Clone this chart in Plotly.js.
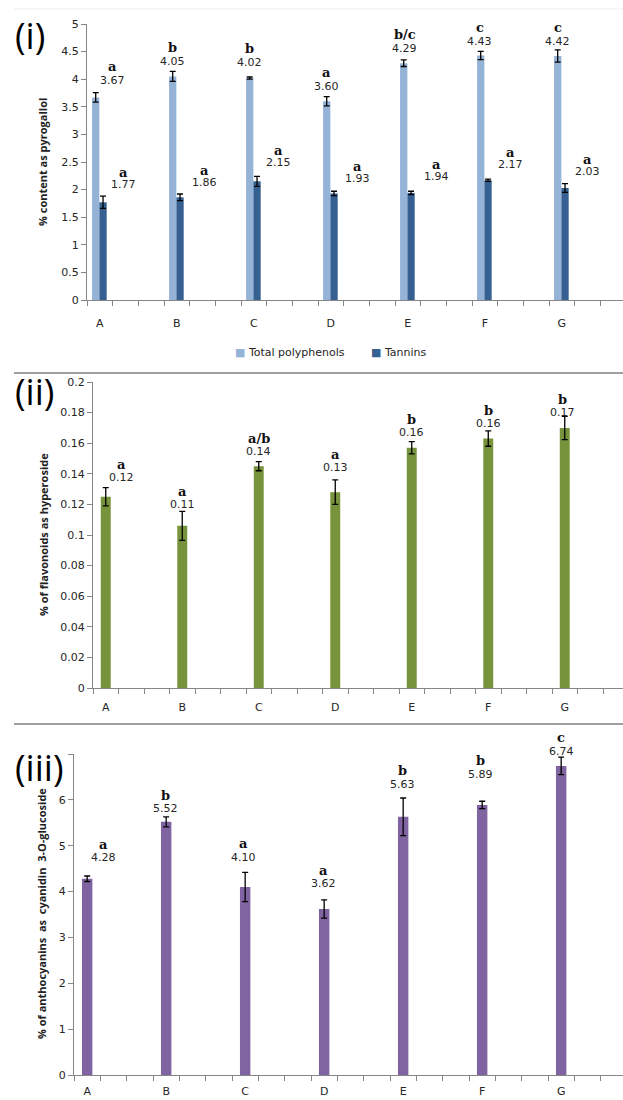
<!DOCTYPE html>
<html><head><meta charset="utf-8">
<script src="https://cdn.plot.ly/plotly-3.0.1.min.js"></script>
<style>html,body{margin:0;padding:0;background:#fff}#chart{width:623px;height:1100px}</style>
</head><body><div id="chart"></div>
<script>
// ---------- DATA ----------
const categories = ['A','B','C','D','E','F','G'];
// (i)
const polyphenols = [3.67,4.05,4.02,3.60,4.29,4.43,4.42];
const polyphenolsErr = [0.085,0.09,0.02,0.085,0.06,0.075,0.11];
const polyphenolsLetters = ['a','b','b','a','b/c','c','c'];
const tannins = [1.77,1.86,2.15,1.93,1.94,2.17,2.03];
const tanninsErr = [0.11,0.06,0.09,0.04,0.03,0.02,0.08];
const tanninsLetters = ['a','a','a','a','a','a','a'];
// (ii)
const flavonoids = [0.125,0.106,0.145,0.128,0.157,0.163,0.170];
const flavonoidsErr = [0.006,0.0095,0.003,0.008,0.004,0.005,0.0076];
const flavonoidsLabels = ['0.12','0.11','0.14','0.13','0.16','0.16','0.17'];
const flavonoidsLetters = ['a','a','a/b','a','b','b','b'];
// (iii)
const anthocyanins = [4.28,5.52,4.10,3.62,5.63,5.89,6.74];
const anthocyaninsErr = [0.06,0.11,0.32,0.20,0.41,0.08,0.19];
const anthocyaninsLetters = ['a','b','a','a','b','b','c'];

// ---------- STYLE (label pixel offsets) ----------
const W = 623, H = 1100;
const P1L_dx = [13,-4,-4,-4,-3,-5,-4], P1L_dy = [12,10,14,10,11,10,8];
const P1D_dx = [24,28,25,27,29,26,26], P1D_dy = [12,12,14,13,15,15,12];
const P2_dx = [16,0,0,0,0,0,-2], P2_dy = [10,7,10,12,9,7,4];
const P3_dx = [16,-1,-2,-1,-1,-2,0], P3_dy = [18,8,15,16,14,27,6];

const xs = categories.map((c,i)=>i);
const axisGray = '#868686';
const tickFont = {family:'DejaVu Sans', size:11, color:'#262626'};
const errStyle = (arr)=>({type:'data', array:arr, visible:true, color:'#000', thickness:1.3, width:3});

const traces = [
  {type:'bar', x:xs, y:polyphenols, name:'Total polyphenols', xaxis:'x', yaxis:'y',
   width:0.095, offset:-0.101, marker:{color:'#95B3D7', line:{width:0}},
   error_y:errStyle(polyphenolsErr), showlegend:false, hoverinfo:'skip'},
  {type:'bar', x:xs, y:tannins, name:'Tannins', xaxis:'x', yaxis:'y',
   width:0.095, offset:-0.006, marker:{color:'#366092', line:{width:0}},
   error_y:errStyle(tanninsErr), showlegend:false, hoverinfo:'skip'},
  {type:'bar', x:xs, y:flavonoids, xaxis:'x2', yaxis:'y2',
   width:0.13, offset:-0.065, marker:{color:'#77933C', line:{width:0}},
   error_y:errStyle(flavonoidsErr), showlegend:false, hoverinfo:'skip'},
  {type:'bar', x:xs, y:anthocyanins, xaxis:'x3', yaxis:'y3',
   width:0.132, offset:-0.066, marker:{color:'#8064A2', line:{width:0}},
   error_y:errStyle(anthocyaninsErr), showlegend:false, hoverinfo:'skip'}
];

function xAxis(left, unitPx, anchor, labelPad){
  return {domain:[left/W,1], range:[-1/6, -1/6 + (W-left)/unitPx], anchor:anchor,
    tickvals:xs, ticktext:categories, ticks:'outside', ticklen:labelPad, tickcolor:'rgba(0,0,0,0)',
    showline:true, linecolor:axisGray, linewidth:1, showgrid:false, zeroline:false,
    tickfont:tickFont, fixedrange:true,
    minor:{tick0:-1/6, dtick:1/3, ticks:'outside', ticklen:5, tickcolor:axisGray, tickwidth:1, showgrid:false}};
}
function yAxis(topPx, botPx, anchor, extra){
  return Object.assign({domain:[1-botPx/H, 1-topPx/H], anchor:anchor,
    ticks:'outside', ticklen:5, tickcolor:axisGray, showline:true, linecolor:axisGray, linewidth:1,
    showgrid:false, zeroline:false, tickfont:tickFont, fixedrange:true}, extra);
}

const annotations = [];
function addLabels(xr, yr, vals, errs, texts, letters, dx, dy, gap){
  vals.forEach((v,i)=>{
    annotations.push({xref:xr, yref:yr, x:xs[i], y:v+errs[i], xshift:dx[i], yshift:dy[i],
      text:texts[i], showarrow:false, xanchor:'center', yanchor:'middle',
      font:{family:'DejaVu Sans', size:11, color:'#262626'}});
    annotations.push({xref:xr, yref:yr, x:xs[i], y:v+errs[i], xshift:dx[i], yshift:dy[i]+gap,
      text:'<b>'+letters[i]+'</b>', showarrow:false, xanchor:'center', yanchor:'middle',
      font:{family:'DejaVu Serif', size:13, color:'#111'}});
  });
}
addLabels('x','y', polyphenols, polyphenolsErr, polyphenols.map(v=>v.toFixed(2)), polyphenolsLetters, P1L_dx, P1L_dy, 14);
addLabels('x','y', tannins, tanninsErr, tannins.map(v=>v.toFixed(2)), tanninsLetters, P1D_dx, P1D_dy, 12);
addLabels('x2','y2', flavonoids, flavonoidsErr, flavonoidsLabels, flavonoidsLetters, P2_dx, P2_dy, 13);
addLabels('x3','y3', anthocyanins, anthocyaninsErr, anthocyanins.map(v=>v.toFixed(2)), anthocyaninsLetters, P3_dx, P3_dy, 13.5);

// panel tags
[['(i)',36],['(ii)',391],['(iii)',767]].forEach(([t,y])=>{
  annotations.push({xref:'paper', yref:'paper', x:13/W, y:1-y/H, text:t, showarrow:false,
    xanchor:'left', yanchor:'middle', font:{family:'Open Sans', size:36, color:'#000'}});
});
// y titles
[['% content as pyrogallol',43,162],['% of flavonoids as hyperoside',43,535],
 ['% of anthocyanins  as  cyanidin  3-O-glucoside',41,914]].forEach(([t,x,y])=>{
  annotations.push({xref:'paper', yref:'paper', x:x/W, y:1-y/H, text:'<b>'+t+'</b>', textangle:-90,
    showarrow:false, xanchor:'center', yanchor:'middle', font:{family:'Open Sans', size:11, color:'#222'}});
});
// legend
annotations.push({xref:'paper', yref:'paper', x:233/W, y:1-352/H, xanchor:'left', yanchor:'middle', showarrow:false,
  text:'<span style="color:#95B3D7">■</span> ' + traces[0].name, font:{family:'DejaVu Sans', size:11, color:'#262626'}});
annotations.push({xref:'paper', yref:'paper', x:369/W, y:1-352/H, xanchor:'left', yanchor:'middle', showarrow:false,
  text:'<span style="color:#366092">■</span> ' + traces[1].name, font:{family:'DejaVu Sans', size:11, color:'#262626'}});

const shapes = [
  {type:'line', xref:'paper', yref:'paper', x0:14/W, x1:1, y0:1-9/H, y1:1-9/H, line:{color:'#eeeeee', width:1}},
  {type:'line', xref:'paper', yref:'paper', x0:14/W, x1:1, y0:1-373/H, y1:1-373/H, line:{color:'#a0a0a0', width:2}},
  {type:'line', xref:'paper', yref:'paper', x0:14/W, x1:1, y0:1-724/H, y1:1-724/H, line:{color:'#a0a0a0', width:2}}
];

const layout = {
  width:W, height:H, margin:{l:0,r:0,t:0,b:0}, paper_bgcolor:'#fff', plot_bgcolor:'#fff',
  barmode:'overlay', showlegend:false,
  xaxis:xAxis(87,77,'y',13),
  yaxis:yAxis(24,300,'x',{range:[0,5], dtick:0.5, tick0:0}),
  xaxis2:xAxis(93,76.5,'y2',9),
  yaxis2:yAxis(382,688,'x2',{range:[0,0.2], dtick:0.02, tick0:0}),
  xaxis3:xAxis(74,79,'y3',6),
  yaxis3:yAxis(754,1075,'x3',{range:[0,7], tickmode:'array', tickvals:[0,1,2,3,4,5,6,7], ticktext:['0','1','2','3','4','5','6','']}),
  annotations:annotations, shapes:shapes
};
Plotly.newPlot('chart', traces, layout, {staticPlot:true, displayModeBar:false});
</script>
</body></html>
